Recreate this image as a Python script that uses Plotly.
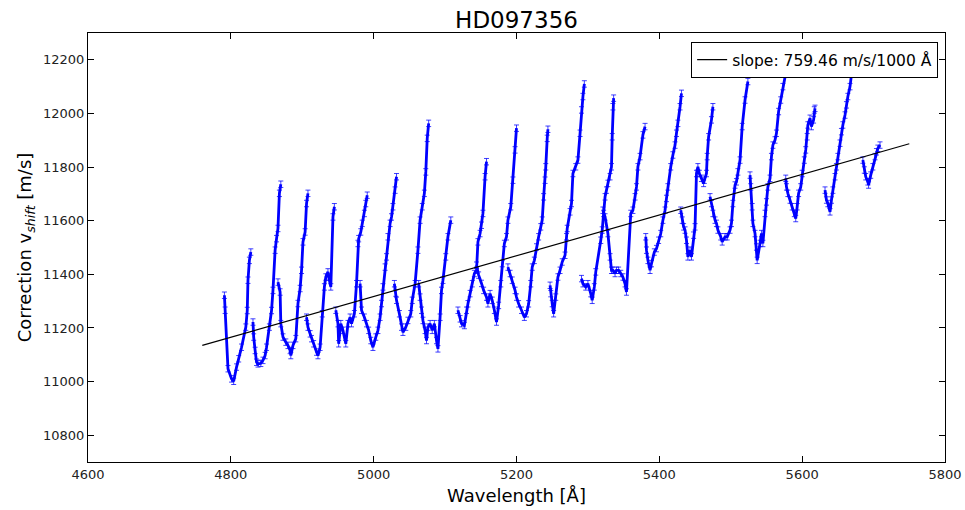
import plotly.graph_objects as go

# ---- data (wavelength in Angstrom, correction in m/s) ----
order_wavelengths = [
    [4791, 4792, 4796, 4801, 4804, 4808, 4811, 4815, 4821, 4823, 4824, 4826, 4828],
    [4831, 4832, 4834, 4836, 4838, 4842, 4845, 4848, 4850, 4854, 4857, 4859, 4862, 4864, 4866, 4868, 4870],
    [4866, 4869, 4870, 4873, 4877, 4880, 4883, 4884, 4887, 4891, 4894, 4897, 4899, 4901, 4904, 4906, 4908],
    [4906, 4908, 4911, 4913, 4916, 4920, 4922, 4925, 4928, 4931, 4933, 4936, 4937, 4940, 4943, 4945],
    [4947, 4950, 4951, 4954, 4957, 4961, 4964, 4967, 4969, 4973, 4976, 4978, 4979, 4982, 4984, 4987, 4989, 4991],
    [4981, 4983, 4987, 4990, 4993, 4996, 4999, 5003, 5006, 5009, 5011, 5013, 5016, 5018, 5020, 5023, 5025, 5027, 5030, 5032],
    [5029, 5031, 5032, 5036, 5039, 5041, 5045, 5048, 5052, 5054, 5058, 5062, 5065, 5068, 5071, 5073, 5075, 5077],
    [5063, 5065, 5067, 5069, 5072, 5074, 5076, 5079, 5082, 5085, 5088, 5090, 5093, 5095, 5097, 5101, 5104, 5108],
    [5118, 5121, 5123, 5127, 5130, 5132, 5135, 5138, 5141, 5144, 5146, 5149, 5151, 5153, 5156, 5158],
    [5144, 5147, 5151, 5154, 5158, 5160, 5163, 5166, 5169, 5172, 5175, 5178, 5180, 5183, 5186, 5188, 5192, 5195, 5198, 5200],
    [5188, 5191, 5194, 5198, 5200, 5203, 5207, 5211, 5214, 5217, 5220, 5222, 5225, 5228, 5231, 5234, 5236, 5238, 5240, 5241, 5243, 5244],
    [5247, 5248, 5250, 5252, 5255, 5258, 5261, 5264, 5268, 5270, 5271, 5275, 5277, 5279, 5283, 5286, 5289, 5291, 5293, 5295],
    [5291, 5293, 5297, 5300, 5304, 5306, 5309, 5311, 5318, 5320, 5322, 5324, 5326, 5328, 5331, 5333, 5334, 5335, 5336],
    [5321, 5324, 5328, 5331, 5333, 5335, 5338, 5340, 5343, 5346, 5349, 5352, 5354, 5360, 5363, 5366, 5368, 5370, 5373, 5377, 5380],
    [5381, 5382, 5384, 5387, 5389, 5393, 5396, 5399, 5402, 5405, 5408, 5410, 5412, 5416, 5419, 5422, 5424, 5426, 5429, 5431],
    [5430, 5432, 5434, 5436, 5438, 5440, 5443, 5445, 5448, 5450, 5452, 5454, 5456, 5459, 5462, 5463, 5466, 5467, 5469, 5473, 5475],
    [5471, 5473, 5475, 5478, 5480, 5482, 5486, 5488, 5492, 5495, 5499, 5501, 5503, 5506, 5508, 5510, 5513, 5516, 5520, 5524],
    [5527, 5528, 5530, 5531, 5534, 5536, 5537, 5541, 5543, 5545, 5548, 5550, 5552, 5555, 5557, 5559, 5562, 5564, 5567, 5570, 5573, 5577],
    [5577, 5578, 5580, 5583, 5586, 5589, 5591, 5593, 5595, 5598, 5600, 5603, 5605, 5607, 5608, 5611, 5613, 5616, 5617, 5618],
    [5632, 5634, 5636, 5639, 5641, 5643, 5646, 5648, 5650, 5653, 5655, 5657, 5660, 5662, 5664, 5667, 5669, 5671, 5674, 5677],
    [5685, 5687, 5689, 5692, 5693, 5696, 5699, 5702, 5704, 5706, 5709],
]

order_corrections = [
    [11322, 11266, 11048, 11010, 11001, 11054, 11085, 11128, 11203, 11265, 11378, 11452, 11483],
    [11222, 11166, 11116, 11072, 11066, 11068, 11079, 11097, 11128, 11203, 11265, 11340, 11490, 11533, 11571, 11702, 11736],
    [11371, 11334, 11216, 11166, 11147, 11135, 11116, 11097, 11135, 11160, 11291, 11347, 11415, 11521, 11558, 11664, 11702],
    [11240, 11203, 11178, 11160, 11141, 11110, 11097, 11128, 11253, 11353, 11390, 11409, 11390, 11353, 11614, 11652],
    [11266, 11216, 11141, 11216, 11191, 11141, 11216, 11240, 11216, 11253, 11365, 11515, 11533, 11558, 11590, 11627, 11664, 11695],
    [11365, 11266, 11240, 11216, 11191, 11153, 11128, 11166, 11191, 11240, 11291, 11353, 11427, 11465, 11540, 11590, 11614, 11652, 11714, 11764],
    [11365, 11330, 11303, 11253, 11203, 11184, 11203, 11228, 11253, 11303, 11365, 11490, 11602, 11652, 11702, 11782, 11907, 11963],
    [11365, 11315, 11266, 11228, 11191, 11153, 11203, 11216, 11191, 11216, 11153, 11122, 11240, 11340, 11378, 11465, 11540, 11602],
    [11266, 11234, 11216, 11209, 11266, 11290, 11328, 11365, 11403, 11415, 11521, 11552, 11583, 11627, 11764, 11820],
    [11434, 11397, 11366, 11340, 11315, 11290, 11328, 11303, 11266, 11222, 11284, 11365, 11440, 11515, 11540, 11602, 11652, 11751, 11864, 11945],
    [11427, 11403, 11378, 11340, 11315, 11290, 11266, 11240, 11253, 11290, 11365, 11427, 11452, 11502, 11540, 11577, 11602, 11689, 11751, 11801, 11907, 11941],
    [11359, 11328, 11291, 11253, 11315, 11390, 11415, 11446, 11471, 11540, 11571, 11633, 11664, 11776, 11801, 11826, 11926, 12013, 12063, 12110],
    [11384, 11365, 11353, 11365, 11328, 11303, 11353, 11409, 11527, 11565, 11627, 11689, 11714, 11739, 11764, 11801, 11913, 12025, 12057],
    [11639, 11614, 11552, 11465, 11415, 11415, 11403, 11415, 11415, 11403, 11390, 11365, 11334, 11627, 11639, 11689, 11726, 11801, 11839, 11920, 11951],
    [11540, 11490, 11452, 11415, 11440, 11483, 11496, 11527, 11552, 11602, 11639, 11683, 11726, 11801, 11845, 11882, 11926, 11963, 12025, 12075],
    [11639, 11602, 11577, 11565, 11527, 11465, 11490, 11465, 11546, 11577, 11776, 11801, 11776, 11758, 11739, 11751, 11776, 11839, 11913, 11976, 12025],
    [11689, 11664, 11627, 11602, 11590, 11565, 11540, 11521, 11540, 11540, 11565, 11590, 11664, 11733, 11745, 11782, 11826, 11951, 12050, 12119],
    [11770, 11726, 11652, 11590, 11552, 11502, 11452, 11515, 11552, 11515, 11627, 11670, 11726, 11758, 11839, 11882, 11901, 11926, 12007, 12050, 12100, 12150],
    [11758, 11726, 11702, 11677, 11652, 11627, 11608, 11652, 11702, 11726, 11776, 11826, 11864, 11913, 11957, 11982, 11951, 11976, 12013, 12019],
    [11714, 11677, 11664, 11633, 11677, 11714, 11764, 11801, 11839, 11889, 11932, 11957, 11994, 12032, 12063, 12100, 12150, 12188, 12219, 12249],
    [11826, 11789, 11764, 11745, 11733, 11770, 11801, 11839, 11857, 11870, 11882],
]

correction_error = 12  # m/s, estimated half-length of the error bars

fit_slope = 0.75946        # m/s per Angstrom (759.46 m/s / 1000 A)
fit_intercept = 7520.0     # m/s
fit_wavelength_range = [4760, 5750]

title_text = "HD097356"
legend_text = "slope: 759.46 m/s/1000 \u00c5"
x_ticks = [4600, 4800, 5000, 5200, 5400, 5600, 5800]
y_ticks = [10800, 11000, 11200, 11400, 11600, 11800, 12000, 12200]

# ---- figure ----
fig = go.Figure()
blue = "#0000ff"
for wl, cv in zip(order_wavelengths, order_corrections):
    fig.add_trace(go.Scatter(
        x=wl, y=cv, mode="lines",
        line=dict(color=blue, width=2.8),
        error_y=dict(type="constant", value=correction_error, color="rgba(0,0,255,0.75)",
                     thickness=1, width=2.5),
        showlegend=False, hoverinfo="x+y",
    ))

fit_y = [fit_intercept + fit_slope * w for w in fit_wavelength_range]
fig.add_trace(go.Scatter(
    x=fit_wavelength_range, y=fit_y, mode="lines",
    line=dict(color="black", width=1.2),
    name=legend_text, showlegend=True,
))

font_family = "DejaVu Sans"
fig.update_layout(
    width=965, height=510,
    margin=dict(l=88, r=20, t=33, b=48),
    paper_bgcolor="white", plot_bgcolor="white",
    font=dict(family=font_family, color="#222", size=13),
    title=dict(text=title_text, x=0.5, xref="paper", xanchor="center",
               y=1 - 20 / 510, yref="container", yanchor="middle",
               font=dict(size=23, color="black", family=font_family)),
    legend=dict(x=0.992, xanchor="right", y=0.979, yanchor="top",
                bgcolor="white", bordercolor="black", borderwidth=1,
                font=dict(size=15.5, color="black", family=font_family)),
    showlegend=True,
)
fig.update_xaxes(
    range=[4600, 5800], tickvals=x_ticks, tickformat="d", ticks="inside", ticklen=6,
    tickcolor="black", showline=True, linecolor="black", linewidth=1,
    mirror="ticks", showgrid=False, zeroline=False, automargin=False,
    title=dict(text="Wavelength [\u00c5]", font=dict(size=18, color="black"), standoff=8),
)
fig.update_yaxes(
    range=[10700, 12300], tickvals=y_ticks, tickformat="d", ticks="inside", ticklen=6,
    tickcolor="black", showline=True, linecolor="black", linewidth=1,
    mirror="ticks", showgrid=False, zeroline=False, automargin=False,
    title=dict(text="Correction v<sub><i>shift</i></sub> [m/s]",
               font=dict(size=18, color="black"), standoff=6),
)

fig.write_html("out.html")
